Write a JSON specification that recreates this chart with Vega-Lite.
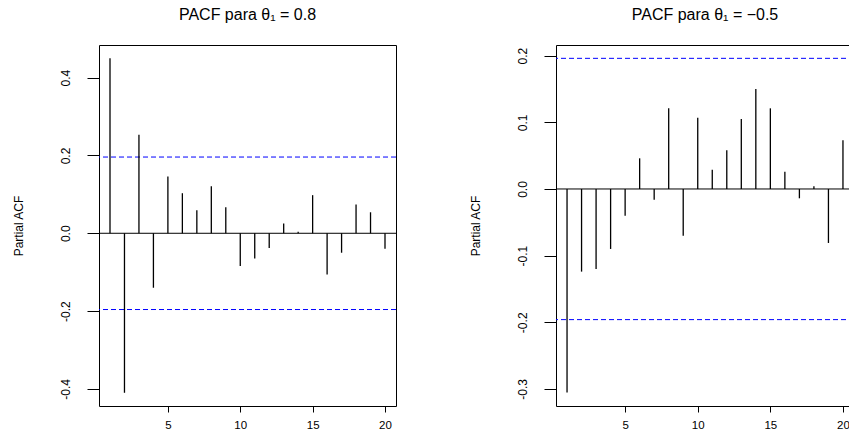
{
  "$schema": "https://vega.github.io/schema/vega-lite/v6.json",
  "padding": {"left": 11, "top": 6, "right": 0, "bottom": 0},
  "background": "white",
  "datasets": {
    "p1": [
      {"lag": 1, "pacf": 0.450}, {"lag": 2, "pacf": -0.410}, {"lag": 3, "pacf": 0.253},
      {"lag": 4, "pacf": -0.140}, {"lag": 5, "pacf": 0.146}, {"lag": 6, "pacf": 0.103},
      {"lag": 7, "pacf": 0.059}, {"lag": 8, "pacf": 0.121}, {"lag": 9, "pacf": 0.067},
      {"lag": 10, "pacf": -0.084}, {"lag": 11, "pacf": -0.065}, {"lag": 12, "pacf": -0.038},
      {"lag": 13, "pacf": 0.025}, {"lag": 14, "pacf": 0.004}, {"lag": 15, "pacf": 0.098},
      {"lag": 16, "pacf": -0.106}, {"lag": 17, "pacf": -0.050}, {"lag": 18, "pacf": 0.074},
      {"lag": 19, "pacf": 0.054}, {"lag": 20, "pacf": -0.040}
    ],
    "p2": [
      {"lag": 1, "pacf": -0.3055}, {"lag": 2, "pacf": -0.124}, {"lag": 3, "pacf": -0.120},
      {"lag": 4, "pacf": -0.090}, {"lag": 5, "pacf": -0.040}, {"lag": 6, "pacf": 0.046},
      {"lag": 7, "pacf": -0.016}, {"lag": 8, "pacf": 0.121}, {"lag": 9, "pacf": -0.070},
      {"lag": 10, "pacf": 0.107}, {"lag": 11, "pacf": 0.029}, {"lag": 12, "pacf": 0.058},
      {"lag": 13, "pacf": 0.105}, {"lag": 14, "pacf": 0.150}, {"lag": 15, "pacf": 0.121},
      {"lag": 16, "pacf": 0.026}, {"lag": 17, "pacf": -0.014}, {"lag": 18, "pacf": 0.004},
      {"lag": 19, "pacf": -0.081}, {"lag": 20, "pacf": 0.073}
    ],
    "ci": [{"v": 0.196}, {"v": -0.196}],
    "zero": [{"v": 0}]
  },
  "config": {
    "view": {"stroke": "#000", "strokeWidth": 1},
    "font": "Liberation Sans",
    "axis": {"grid": false, "domain": false, "tickColor": "#000", "tickWidth": 1, "labelColor": "#000", "titleColor": "#000", "labelFont": "Liberation Sans", "titleFont": "Liberation Sans"},
    "title": {"font": "Liberation Sans", "fontSize": 16, "fontWeight": "normal", "color": "#000", "anchor": "middle", "baseline": "alphabetic", "offset": 22}
  },
  "spacing": 71,
  "hconcat": [
    {
      "width": 297,
      "height": 361,
      "title": {"text": "PACF para θ₁ = 0.8"},
      "layer": [
        {
          "data": {"name": "zero"},
          "mark": {"type": "rule", "color": "#000", "strokeWidth": 1},
          "encoding": {"y": {"field": "v", "type": "quantitative", "scale": {"domain": [-0.444, 0.484], "nice": false, "zero": false}}}
        },
        {
          "data": {"name": "ci"},
          "mark": {"type": "rule", "color": "#0000ff", "strokeWidth": 1, "strokeDash": [5, 3]},
          "encoding": {"y": {"field": "v", "type": "quantitative"}}
        },
        {
          "data": {"name": "p1"},
          "mark": {"type": "rule", "color": "#000", "strokeWidth": 1.3},
          "encoding": {
            "x": {"field": "lag", "type": "quantitative", "scale": {"domain": [0.24, 20.76], "nice": false, "zero": false},
                  "axis": {"title": null, "values": [5, 10, 15, 20], "tickSize": 6, "labelPadding": 7, "labelFontSize": 11.5, "labelBaseline": "top", "labelAlign": "center"}},
            "y": {"field": "pacf", "type": "quantitative",
                  "axis": {"title": "Partial ACF", "titleFontSize": 12, "titleFontWeight": "normal", "titlePadding": 14, "values": [-0.4, -0.2, 0, 0.2, 0.4], "labelExpr": "replace(format(datum.value, '.1f'), '\u2212', '-')", "tickSize": 12, "labelPadding": 18, "labelFontSize": 12, "labelAngle": -90, "labelAlign": "center", "labelBaseline": "alphabetic", "minExtent": 60, "maxExtent": 60}},
            "y2": {"datum": 0}
          }
        }
      ]
    },
    {
      "width": 298,
      "height": 361,
      "title": {"text": "PACF para θ₁ = −0.5"},
      "layer": [
        {
          "data": {"name": "zero"},
          "mark": {"type": "rule", "color": "#000", "strokeWidth": 1},
          "encoding": {"y": {"field": "v", "type": "quantitative", "scale": {"domain": [-0.3256, 0.216], "nice": false, "zero": false}}}
        },
        {
          "data": {"name": "ci"},
          "mark": {"type": "rule", "color": "#0000ff", "strokeWidth": 1, "strokeDash": [5, 3]},
          "encoding": {"y": {"field": "v", "type": "quantitative"}}
        },
        {
          "data": {"name": "p2"},
          "mark": {"type": "rule", "color": "#000", "strokeWidth": 1.3},
          "encoding": {
            "x": {"field": "lag", "type": "quantitative", "scale": {"domain": [0.24, 20.76], "nice": false, "zero": false},
                  "axis": {"title": null, "values": [5, 10, 15, 20], "tickSize": 6, "labelPadding": 7, "labelFontSize": 11.5, "labelBaseline": "top", "labelAlign": "center"}},
            "y": {"field": "pacf", "type": "quantitative",
                  "axis": {"title": "Partial ACF", "titleFontSize": 12, "titleFontWeight": "normal", "titlePadding": 14, "values": [-0.3, -0.2, -0.1, 0, 0.1, 0.2], "labelExpr": "replace(format(datum.value, '.1f'), '\u2212', '-')", "tickSize": 12, "labelPadding": 18, "labelFontSize": 12, "labelAngle": -90, "labelAlign": "center", "labelBaseline": "alphabetic", "minExtent": 60, "maxExtent": 60}},
            "y2": {"datum": 0}
          }
        }
      ]
    }
  ]
}
